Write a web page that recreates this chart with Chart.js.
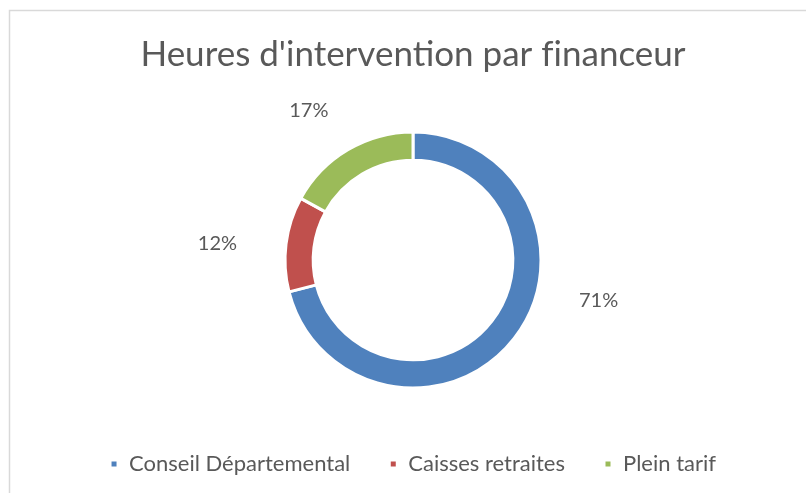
<!DOCTYPE html>
<html>
<head>
<meta charset="utf-8">
<script src="https://cdn.jsdelivr.net/npm/chart.js@4.4.1/dist/chart.umd.min.js"></script>
<style>
  html, body { margin: 0; padding: 0; background: #fff; }
  #wrap { width: 806px; height: 493px; position: relative; }
</style>
</head>
<body>
<div id="wrap"><canvas id="chart" width="806" height="493"></canvas></div>
<script>
// data
const categories = ["Conseil Départemental", "Caisses retraites", "Plein tarif"];
const shares = [71, 12, 17];
const colors = ["#4F81BD", "#C0504D", "#9BBB59"];

const FONT = "Lato, 'Open Sans', sans-serif";
const TEXT = "#595959";

// light grey frame of the chart area (top + left edges visible)
const framePlugin = {
  id: "frame",
  beforeDraw(chart) {
    const c = chart.ctx;
    c.save();
    c.strokeStyle = "#d9d9d9";
    c.lineWidth = 1.5;
    c.beginPath();
    c.moveTo(9.5, chart.height + 2);
    c.lineTo(9.5, 10.5);
    c.lineTo(chart.width + 2, 10.5);
    c.stroke();
    c.restore();
  },
};

// percentage labels outside the ring, excel "best fit" style
const pctLabels = {
  id: "pctLabels",
  afterDatasetsDraw(chart, args, opts) {
    const c = chart.ctx;
    const meta = chart.getDatasetMeta(0);
    const total = shares.reduce((a, b) => a + b, 0);
    c.save();
    c.font = opts.size + "px " + FONT;
    c.fillStyle = TEXT;
    c.textAlign = "center";
    c.textBaseline = "middle";
    meta.data.forEach((arc, i) => {
      const mid = (arc.startAngle + arc.endAngle) / 2;
      const r = arc.outerRadius + opts.distance;
      const n = opts.nudge[i] || [0, 0];
      const x = arc.x + Math.cos(mid) * r + n[0];
      const y = arc.y + Math.sin(mid) * r + n[1];
      c.fillText(Math.round((shares[i] / total) * 100) + "%", x, y);
    });
    c.restore();
  },
};

new Chart(document.getElementById("chart"), {
  type: "doughnut",
  data: {
    labels: categories,
    datasets: [
      {
        data: shares,
        backgroundColor: colors,
        borderColor: "#ffffff",
        borderWidth: 3,
        hoverOffset: 0,
      },
    ],
  },
  options: {
    responsive: false,
    animation: false,
    cutout: "78%",
    radius: 128,
    layout: { padding: { left: 20, right: 0, top: 0, bottom: 8 } },
    plugins: {
      title: {
        display: true,
        // ZWNJ keeps "f" and "i" apart like the original (no ligature)
        text: "Heures d'intervention par f\u200Cinanceur",
        color: TEXT,
        font: { family: FONT, size: 35, weight: "normal" },
        padding: { top: 34, bottom: 30 },
      },
      legend: {
        position: "bottom",
        labels: {
          color: TEXT,
          font: { family: FONT, size: 22 },
          boxWidth: 8,
          boxHeight: 8,
          padding: 39,
        },
      },
      tooltip: { enabled: false },
      pctLabels: {
        size: 20,
        distance: 55,
        nudge: [[41, -72], [-14, 6], [-11, 8]],
      },
    },
  },
  plugins: [framePlugin, pctLabels],
});
</script>
</body>
</html>
